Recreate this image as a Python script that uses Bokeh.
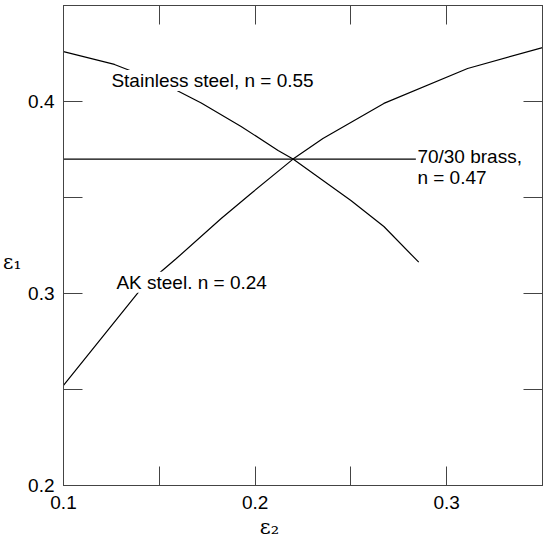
from bokeh.plotting import figure
from bokeh.models import Range1d, LinearAxis, FixedTicker, Label
from bokeh.embed import file_html
from bokeh.resources import INLINE

# ---- data ----
stainless_e2 = [0.100, 0.1266, 0.1521, 0.1719, 0.1927, 0.2120, 0.2198, 0.2500, 0.2672, 0.2854]
stainless_e1 = [0.4260, 0.4193, 0.4094, 0.3992, 0.3870, 0.3745, 0.3700, 0.3484, 0.3349, 0.3163]

brass_e2 = [0.100, 0.2839]
brass_e1 = [0.370, 0.370]

ak_e2 = [0.100, 0.1406, 0.1589, 0.1823, 0.1979, 0.2198, 0.2354, 0.2672, 0.3109, 0.3500]
ak_e1 = [0.2521, 0.3026, 0.3182, 0.3391, 0.3521, 0.3700, 0.3807, 0.3990, 0.4172, 0.4281]

x_ticks = [0.1, 0.15, 0.2, 0.25, 0.3, 0.35]
x_tick_labels = ["0.1", "", "0.2", "", "0.3", ""]
y_ticks = [0.2, 0.25, 0.3, 0.35, 0.4, 0.45]
y_tick_labels = ["0.2", "", "0.3", "", "0.4", ""]

x_title = "ε₂"
x_title_pos = 0.2075
y_title = "ε₁"
y_title_pos = 0.3166

stainless_label = "Stainless steel, n = 0.55"
brass_label_1 = "70/30 brass,"
brass_label_2 = "n = 0.47"
ak_label = "AK steel. n = 0.24"

FONT = "Liberation Sans"
AXC = "#444444"

p = figure(width=543, height=544,
           x_range=Range1d(0.1, 0.35), y_range=Range1d(0.2, 0.45),
           output_backend="svg", toolbar_location=None,
           x_axis_type=None, y_axis_type=None,
           min_border_left=62, min_border_right=1,
           min_border_top=5, min_border_bottom=59,
           styles={"position": "absolute", "left": "0px", "top": "0px"})
p.grid.visible = False
p.outline_line_color = AXC
p.outline_line_width = 1
p.background_fill_color = "white"
p.border_fill_color = "white"


def style_axis(ax, ticks, labels, show_labels, standoff):
    ax.ticker = FixedTicker(ticks=ticks)
    ax.major_label_overrides = {t: (l if show_labels else "") for t, l in zip(ticks, labels)}
    ax.major_tick_in = 19
    ax.major_tick_out = 0
    ax.minor_tick_line_color = None
    ax.major_tick_line_color = AXC
    ax.axis_line_color = AXC
    ax.major_label_text_font = FONT
    ax.major_label_text_font_size = "19px" if show_labels else "0px"
    ax.major_label_text_color = "black"
    ax.major_label_standoff = standoff


bottom = LinearAxis()
style_axis(bottom, x_ticks, x_tick_labels, True, 10)
p.add_layout(bottom, "below")
left = LinearAxis()
style_axis(left, y_ticks, y_tick_labels, True, 9)
p.add_layout(left, "left")
top = LinearAxis()
style_axis(top, x_ticks, x_tick_labels, False, 0)
p.add_layout(top, "above")
right = LinearAxis()
style_axis(right, y_ticks, y_tick_labels, False, 0)
p.add_layout(right, "right")


def title_axis(pos, text, standoff, size):
    ax = LinearAxis(ticker=FixedTicker(ticks=[pos]),
                    major_label_overrides={pos: text})
    ax.major_tick_line_color = None
    ax.minor_tick_line_color = None
    ax.axis_line_color = None
    ax.major_tick_in = 0
    ax.major_tick_out = 0
    ax.major_label_standoff = standoff
    ax.major_label_text_font = "DejaVu Serif"
    ax.major_label_text_font_size = size
    ax.major_label_text_color = "black"
    return ax


p.add_layout(title_axis(x_title_pos, x_title, 3, "21px"), "below")
p.add_layout(title_axis(y_title_pos, y_title, 4, "20px"), "left")

p.line(stainless_e2, stainless_e1, line_color="black", line_width=1.2)
p.line(brass_e2, brass_e1, line_color="black", line_width=1.2)
p.line(ak_e2, ak_e1, line_color="black", line_width=1.2)


def lab(x, y, text, **kw):
    opts = dict(text_font=FONT, text_font_size="19px", text_color="black",
                text_baseline="alphabetic", text_align="left")
    opts.update(kw)
    p.add_layout(Label(x=x, y=y, text=text, **opts))


lab(0.125, 0.4109, stainless_label, background_fill_color="white")
lab(0.1276, 0.3059, ak_label, background_fill_color="white")
lab(0.2847, 0.3714, brass_label_1)
lab(0.2847, 0.3606, brass_label_2)

open("out.html", "w").write(file_html(p, INLINE))
